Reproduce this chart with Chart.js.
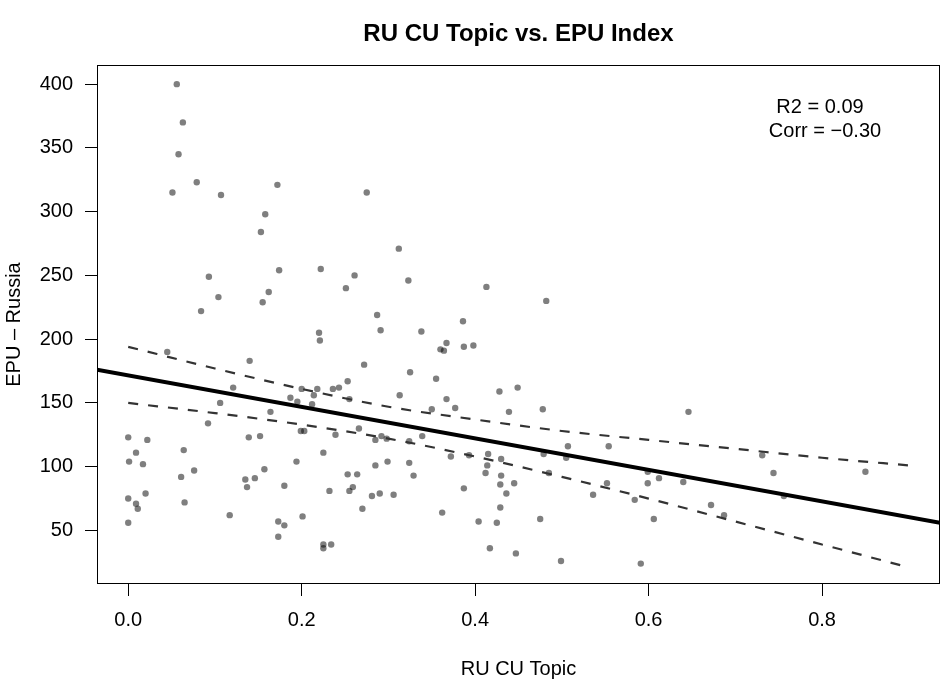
<!DOCTYPE html>
<html><head><meta charset="utf-8">
<script src="https://cdn.jsdelivr.net/npm/chart.js@4.4.1/dist/chart.umd.min.js"></script>
<style>html,body{margin:0;padding:0;background:#fff;}#wrap{width:941px;height:685px;position:relative;}</style>
</head><body><div id="wrap"><canvas id="c" width="941" height="685"></canvas></div>
<script>
// ---- data ----
const topicX = [
 0.056,0.063,0.058,0.079,0.051,0.107,0.172,0.158,0.153,
 0.275,
 0.093,0.104,0.084,0.174,0.162,0.155,0.045,0.140,0.121,0.106,0.164,0.187,0.195,0.200,
 0.092,0.000,0.022,0.009,0.001,0.017,0.064,0.076,0.061,0.065,0.000,0.009,0.011,0.020,0.000,0.117,0.139,0.152,0.135,0.146,0.157,0.137,0.180,0.194,0.199,0.203,0.173,0.180,0.173,0.201,
 0.312,0.222,0.261,0.251,0.323,0.413,0.287,0.291,0.338,0.220,0.221,0.386,0.367,0.360,0.364,0.387,0.398,0.272,0.325,0.355,0.253,0.236,0.243,0.218,0.214,0.212,0.255,0.313,0.367,0.428,0.449,0.350,0.377,0.439,
 0.239,0.266,0.225,0.285,0.292,0.298,0.324,0.339,0.253,0.264,0.285,0.299,0.324,0.329,0.232,0.259,0.255,0.281,0.290,0.306,0.270,0.225,0.225,0.234,0.372,0.393,0.415,0.414,0.412,0.430,0.430,0.429,0.445,0.436,0.387,0.362,0.404,0.429,0.425,0.417,0.447,
 0.482,0.478,0.646,
 0.507,0.479,0.505,0.554,0.485,0.536,0.552,0.584,0.599,0.599,0.612,0.640,0.672,0.687,0.475,0.606,0.499,0.591,
 0.731,0.744,0.756,0.850
];
const epuY = [
 400,370,345,323,315,313,321,298,284,
 315,
 249,233,222,254,237,229,190,183,162,150,143,154,151,161,
 134,123,121,111,104,102,113,97,92,72,75,71,67,79,56,62,123,124,90,91,98,84,85,104,128,128,57,54,45,61,
 271,255,250,240,246,241,219,207,206,205,199,214,197,192,191,194,195,180,174,169,167,161,162,161,156,149,153,156,153,159,162,145,146,143,
 125,130,111,121,124,122,120,124,94,94,101,104,103,93,81,84,81,77,79,78,67,39,36,39,108,109,110,101,95,106,93,86,87,79,83,64,57,68,56,36,32,
 230,145,143,
 116,110,107,116,95,78,87,74,96,87,91,88,70,62,59,59,26,24,
 109,95,77,96
];
const xTickValues = [0, 0.2, 0.4, 0.6, 0.8];
const yTickValues = [50, 100, 150, 200, 250, 300, 350, 400];
// fitted line (abline) and confidence band
const fitLineX = [-0.036, 0.936];
const fitLineY = [176.1, 56.1];
const bandX = [0, 0.1, 0.2, 0.3, 0.4, 0.5, 0.6, 0.7, 0.8, 0.9];
const bandUpper = [194, 177, 161, 147, 137, 128, 121, 114, 107, 101];
const bandLower = [150, 142, 133, 122, 108, 92, 75, 57, 39, 21];
const titleText = "RU CU Topic vs. EPU Index";
const xTitle = "RU CU Topic";
const yTitle = "EPU \u2013 Russia";
const statLines = ["R2 = 0.09", "Corr = \u22120.30"];

const FONT = "'Liberation Sans', Arial, Helvetica, sans-serif";
const pts = (xs, ys) => xs.map((x, i) => ({x: x, y: ys[i]}));

const decor = {
  id: 'decor',
  afterDraw(chart) {
    const ctx = chart.ctx, a = chart.chartArea;
    ctx.save();
    ctx.strokeStyle = '#000'; ctx.lineWidth = 1;
    ctx.strokeRect(a.left + 0.5, a.top + 0.5, a.right - a.left - 1, a.bottom - a.top - 1);
    ctx.fillStyle = '#000';
    ctx.textAlign = 'center'; ctx.textBaseline = 'alphabetic';
    ctx.font = "bold 24px " + FONT;
    ctx.fillText(titleText, (a.left + a.right) / 2, 41);
    ctx.font = "20px " + FONT;
    ctx.fillText(xTitle, (a.left + a.right) / 2, 675);
    ctx.fillText(statLines[0], 820, 113);
    ctx.fillText(statLines[1], 825, 137);
    ctx.translate(20, (a.top + a.bottom) / 2);
    ctx.rotate(-Math.PI / 2);
    ctx.fillText(yTitle, 0, 0);
    ctx.restore();
  }
};

new Chart(document.getElementById('c'), {
  type: 'scatter',
  data: {
    datasets: [
      {data: pts(fitLineX, fitLineY), showLine: true, borderColor: '#000', borderWidth: 4, pointRadius: 0, fill: false},
      {data: pts(bandX, bandUpper), showLine: true, borderColor: '#333', borderWidth: 2.2, borderDash: [10, 10], pointRadius: 0, cubicInterpolationMode: 'monotone', fill: false},
      {data: pts(bandX, bandLower), showLine: true, borderColor: '#333', borderWidth: 2.2, borderDash: [10, 10], pointRadius: 0, cubicInterpolationMode: 'monotone', fill: false},
      {data: pts(topicX, epuY), pointRadius: 3.2, pointHoverRadius: 3.2, pointBackgroundColor: 'rgba(0,0,0,0.5)', pointBorderWidth: 0, showLine: false}
    ]
  },
  options: {
    responsive: false, animation: false, devicePixelRatio: 1,
    layout: {autoPadding: false, padding: {top: 65, right: 1, left: 0, bottom: 0}},
    plugins: {legend: {display: false}, tooltip: {enabled: false}, title: {display: false}},
    scales: {
      x: {
        type: 'linear', min: -0.036, max: 0.936,
        afterBuildTicks: s => { s.ticks = xTickValues.map(v => ({value: v})); },
        afterFit: s => { s.height = 101; s.paddingLeft = 0; s.paddingRight = 0; },
        grid: {display: true, drawOnChartArea: false, drawTicks: true, tickLength: 12, color: '#000', lineWidth: 1},
        border: {display: false},
        ticks: {padding: 12, color: '#000', font: {family: FONT, size: 20}, maxRotation: 0, autoSkip: false,
                callback: v => Number(v).toFixed(1)}
      },
      y: {
        type: 'linear', min: 8, max: 415,
        afterBuildTicks: s => { s.ticks = yTickValues.map(v => ({value: v})); },
        afterFit: s => { s.width = 97; s.paddingTop = 0; s.paddingBottom = 0; },
        grid: {display: true, drawOnChartArea: false, drawTicks: true, tickLength: 12, color: '#000', lineWidth: 1},
        border: {display: false},
        ticks: {padding: 12, color: '#000', font: {family: FONT, size: 20}, autoSkip: false,
                callback: v => String(v)}
      }
    }
  },
  plugins: [decor]
});
</script></body></html>
